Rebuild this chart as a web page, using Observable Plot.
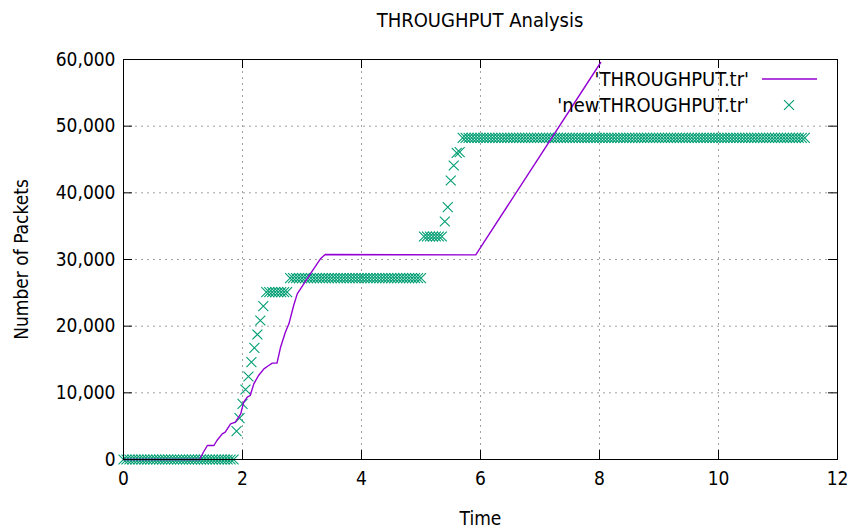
<!DOCTYPE html>
<html><head><meta charset="utf-8">
<script src="https://cdn.jsdelivr.net/npm/d3@7"></script>
<script src="https://cdn.jsdelivr.net/npm/@observablehq/plot@0.6"></script>
<style>
body{margin:0;background:#fff;}
#chart{width:853px;height:529px;}
</style></head>
<body><div id="chart"></div>
<script>
// THROUGHPUT.tr (line)
const lineTime = [0,1.28,1.34,1.41,1.52,1.57,1.66,1.71,1.80,1.88,1.97,2.02,2.08,2.13,2.19,2.27,2.36,2.44,2.50,2.58,2.64,2.72,2.78,2.86,2.92,3.03,3.14,3.31,3.39,5.92,8.02];
const linePackets = [0,0,1050,2100,2100,2850,3850,4100,5350,5600,6850,8600,9350,9600,11350,12600,13600,14100,14450,14450,16850,19100,20350,23100,24850,26350,27850,30100,30750,30700,59550];

// newTHROUGHPUT.tr (points)
const newTime = [
0,0.05,0.1,0.15,0.2,0.25,0.3,0.35,0.4,0.45,0.5,0.55,0.6,0.65,0.7,0.75,0.8,0.85,0.9,0.95,
1,1.05,1.1,1.15,1.2,1.25,1.3,1.35,1.4,1.45,1.5,1.55,1.6,1.65,1.7,1.75,1.8,1.85,
1.9,1.95,2,2.05,2.1,2.15,2.2,2.25,2.3,2.35,
2.4,2.45,2.5,2.55,2.6,2.65,2.7,2.75,
2.8,2.85,2.9,2.95,3,3.05,3.1,3.15,3.2,3.25,3.3,3.35,3.4,3.45,3.5,3.55,3.6,3.65,3.7,3.75,
3.8,3.85,3.9,3.95,4,4.05,4.1,4.15,4.2,4.25,4.3,4.35,4.4,4.45,4.5,4.55,4.6,4.65,4.7,4.75,
4.8,4.85,4.9,4.95,5,
5.05,5.1,5.15,5.2,5.25,5.3,5.35,
5.4,5.45,5.5,5.55,5.6,5.65,
5.7,5.75,5.8,5.85,5.9,5.95,6,6.05,6.1,6.15,6.2,6.25,6.3,6.35,6.4,6.45,6.5,6.55,6.6,6.65,
6.7,6.75,6.8,6.85,6.9,6.95,7,7.05,7.1,7.15,7.2,7.25,7.3,7.35,7.4,7.45,7.5,7.55,7.6,7.65,
7.7,7.75,7.8,7.85,7.9,7.95,8,8.05,8.1,8.15,8.2,8.25,8.3,8.35,8.4,8.45,8.5,8.55,8.6,8.65,
8.7,8.75,8.8,8.85,8.9,8.95,9,9.05,9.1,9.15,9.2,9.25,9.3,9.35,9.4,9.45,9.5,9.55,9.6,9.65,
9.7,9.75,9.8,9.85,9.9,9.95,10,10.05,10.1,10.15,10.2,10.25,10.3,10.35,10.4,10.45,10.5,10.55,10.6,10.65,
10.7,10.75,10.8,10.85,10.9,10.95,11,11.05,11.1,11.15,11.2,11.25,11.3,11.35,11.4,11.45];
const newPackets = [
0,0,0,0,0,0,0,0,0,0,0,0,0,0,0,0,0,0,0,0,
0,0,0,0,0,0,0,0,0,0,0,0,0,0,0,0,0,0,
4250,6200,8350,10500,12450,14600,16750,18750,20850,23000,
25100,25100,25100,25100,25100,25100,25100,25100,
27200,27200,27200,27200,27200,27200,27200,27200,27200,27200,27200,27200,27200,27200,27200,27200,27200,27200,27200,27200,
27200,27200,27200,27200,27200,27200,27200,27200,27200,27200,27200,27200,27200,27200,27200,27200,27200,27200,27200,27200,
27200,27200,27200,27200,27200,
33450,33450,33450,33450,33450,33450,33450,
35700,37850,41850,44100,46000,46100,
48250,48250,48250,48250,48250,48250,48250,48250,48250,48250,48250,48250,48250,48250,48250,48250,48250,48250,48250,48250,
48250,48250,48250,48250,48250,48250,48250,48250,48250,48250,48250,48250,48250,48250,48250,48250,48250,48250,48250,48250,
48250,48250,48250,48250,48250,48250,48250,48250,48250,48250,48250,48250,48250,48250,48250,48250,48250,48250,48250,48250,
48250,48250,48250,48250,48250,48250,48250,48250,48250,48250,48250,48250,48250,48250,48250,48250,48250,48250,48250,48250,
48250,48250,48250,48250,48250,48250,48250,48250,48250,48250,48250,48250,48250,48250,48250,48250,48250,48250,48250,48250,
48250,48250,48250,48250,48250,48250,48250,48250,48250,48250,48250,48250,48250,48250,48250,48250];

const xTicks = [0,2,4,6,8,10,12];
const yTicks = [0,10000,20000,30000,40000,50000,60000];
const titleText = "THROUGHPUT Analysis";
const seriesNames = ["'THROUGHPUT.tr'", "'newTHROUGHPUT.tr'"];
const xLabel = "Time";
const yLabel = "Number of Packets";

const lineData = lineTime.map((t,i)=>({t, v: linePackets[i]}));
const pointData = newTime.map((t,i)=>({t, v: newPackets[i]}));

const W = 853, H = 529, mL = 123, mR = 16, mT = 59, mB = 70;
const pw = W - mL - mR, ph = H - mT - mB;
const FONT = "'DejaVu Sans Condensed', 'DejaVu Sans', sans-serif";
const LINE_C = "#9400d3", PT_C = "#009e73";
const tickLen = 9;

const chart = Plot.plot({
  width: W, height: H,
  marginLeft: mL, marginRight: mR, marginTop: mT, marginBottom: mB,
  style: {fontFamily: FONT, fontSize: "19px", color: "#000", background: "#fff", overflow: "visible"},
  x: {domain: [0, 12]},
  y: {domain: [0, 60000]},
  marks: [
    Plot.gridX(xTicks, {stroke: "#a0a0a0", strokeOpacity: 1, strokeDasharray: "2,4"}),
    Plot.gridY(yTicks, {stroke: "#a0a0a0", strokeOpacity: 1, strokeDasharray: "2,4"}),
    Plot.ruleX(xTicks, {x: d => d, insetTop: ph - tickLen, stroke: "#000"}),
    Plot.ruleX(xTicks, {x: d => d, insetBottom: ph - tickLen, stroke: "#000"}),
    Plot.ruleY(yTicks, {y: d => d, insetRight: pw - tickLen, stroke: "#000"}),
    Plot.ruleY(yTicks, {y: d => d, insetLeft: pw - tickLen, stroke: "#000"}),
    Plot.axisX(xTicks, {tickSize: 0, tickPadding: 12, label: xLabel, labelAnchor: "center", labelArrow: "none", labelOffset: 65}),
    Plot.axisY(yTicks, {tickSize: 0, tickPadding: 8, tickFormat: d3.format(","), label: yLabel, labelAnchor: "center", labelArrow: "none", labelOffset: 109}),
    Plot.dot(pointData, {x: "t", y: "v", symbol: "times", r: 4.6, stroke: PT_C, strokeWidth: 1.1}),
    Plot.line(lineData, {x: "t", y: "v", stroke: LINE_C, strokeWidth: 1.4}),
    Plot.frame({stroke: "#000", strokeWidth: 1})
  ]
});
document.getElementById("chart").appendChild(chart);

// title and legend overlay
const svg = d3.select(chart);
svg.append("text").attr("x", mL + pw/2).attr("y", 27).attr("text-anchor", "middle")
  .attr("font-family", FONT).attr("font-size", 20).attr("fill", "#000").text(titleText);
const lg = svg.append("g").attr("font-family", FONT).attr("font-size", 20).attr("fill", "#000");
lg.append("text").attr("x", 749).attr("y", 86).attr("text-anchor", "end").text(seriesNames[0]);
lg.append("line").attr("x1", 762).attr("x2", 817).attr("y1", 79).attr("y2", 79).attr("stroke", LINE_C).attr("stroke-width", 1.4);
lg.append("text").attr("x", 749).attr("y", 112).attr("text-anchor", "end").text(seriesNames[1]);
lg.append("path").attr("d", d3.symbol(d3.symbolTimes, Math.PI * 4.6 * 4.6)()).attr("transform", "translate(789,105)")
  .attr("fill", "none").attr("stroke", PT_C).attr("stroke-width", 1.1);
</script>
</body></html>
